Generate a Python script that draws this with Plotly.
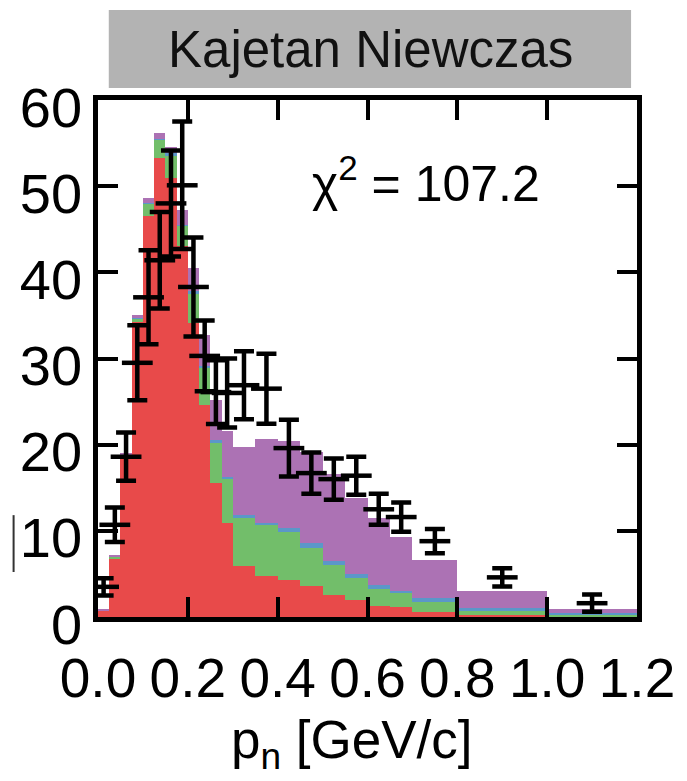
import plotly.graph_objects as go

# ---- data ----
bin_edges = [0, 0.025, 0.05, 0.075, 0.1, 0.125, 0.15, 0.175, 0.2, 0.225, 0.25, 0.275, 0.3,
             0.35, 0.4, 0.45, 0.5, 0.55, 0.6, 0.65, 0.7, 0.8, 1.0, 1.2]
red = [0.8, 6.7, 18.8, 34.2, 46.5, 53.3, 51.0, 43.0, 34.1, 24.6, 15.5, 10.9, 5.9, 4.8, 4.3, 3.6,
       2.55, 2.0, 1.3, 1.2, 0.6, 0.2, 0.05]
green = [0.0, 0.3, 0.1, 0.4, 1.5, 2.1, 2.6, 2.4, 3.5, 4.3, 4.8, 5.2, 5.7, 5.9, 5.6, 4.4,
         3.45, 2.5, 1.9, 1.6, 1.15, 0.55, 0.15]
blue = [0.0, 0.0, 0.0, 0.1, 0.1, 0.1, 0.2, 0.1, 0.2, 0.2, 0.2, 0.2, 0.2, 0.2, 0.4, 0.6,
        0.5, 0.5, 0.5, 0.2, 0.45, 0.35, 0.25]
purple = [0.1, 0.1, 0.1, 0.3, 0.5, 0.7, 0.7, 1.7, 2.7, 3.6, 4.7, 5.3, 7.9, 9.8, 10.1, 10.6,
          10.1, 8.8, 7.8, 6.3, 4.4, 1.9, 0.45]

data_x = [0.0125, 0.0375, 0.0625, 0.0875, 0.1125, 0.1375, 0.1625, 0.1875, 0.2125, 0.2375,
          0.2625, 0.2875, 0.325, 0.375, 0.425, 0.475, 0.525, 0.575, 0.625, 0.675, 0.75, 0.9, 1.1]
data_y = [3.5, 10.7, 18.6, 29.5, 37.1, 41.4, 48.0, 50.1, 38.3, 30.3, 26.1, 26.0, 26.9, 26.5,
          19.6, 16.7, 16.0, 16.4, 12.5, 11.6, 8.8, 4.6, 1.6]
data_err = [1.0, 2.0, 2.8, 4.35, 5.45, 5.6, 6.15, 7.4, 5.75, 4.1, 3.7, 4.0, 3.95, 4.06,
            3.3, 2.4, 2.4, 2.2, 1.8, 1.7, 1.4, 1.05, 1.0]

x_ticks = [0.0, 0.2, 0.4, 0.6, 0.8, 1.0, 1.2]
x_tick_text = ["0.0", "0.2", "0.4", "0.6", "0.8", "1.0", "1.2"]
y_ticks = [0, 10, 20, 30, 40, 50, 60]

title_text = "Kajetan Niewczas"
chi2_text = "χ<sup>2</sup> = 107.2"
xaxis_text = "p<sub>n</sub> [GeV/c]"

# ---- figure ----
centers = [(a + b) / 2 for a, b in zip(bin_edges[:-1], bin_edges[1:])]
widths = [b - a for a, b in zip(bin_edges[:-1], bin_edges[1:])]

FONT = "Liberation Sans, Arial, Helvetica, sans-serif"
fig = go.Figure()
for vals, col in [(red, "#e84a4a"), (green, "#72be6a"), (blue, "#5b97c9"), (purple, "#ac72b4")]:
    fig.add_trace(go.Bar(x=centers, y=vals, width=widths, marker=dict(color=col, line=dict(width=0)),
                         showlegend=False, hoverinfo="skip"))

fig.add_trace(go.Scatter(
    x=data_x, y=data_y, mode="markers",
    marker=dict(symbol="line-ew-open", size=22, color="black", line=dict(width=4.5, color="black")),
    error_y=dict(type="data", array=data_err, visible=True, color="black", thickness=4.5, width=10),
    showlegend=False, hoverinfo="skip"))

fig.update_layout(
    width=687, height=781,
    margin=dict(l=98, r=40, t=100, b=164),
    paper_bgcolor="white", plot_bgcolor="white",
    barmode="stack", bargap=0,
    font=dict(family=FONT, color="black"),
    xaxis=dict(range=[0, 1.2], tickvals=x_ticks, ticktext=x_tick_text, ticks="inside", ticklen=20,
               tickwidth=4, tickcolor="black", showline=True, linewidth=4.5, linecolor="black",
               mirror="ticks", showgrid=False, zeroline=False,
               tickfont=dict(size=55, family=FONT), ticklabelstandoff=9),
    yaxis=dict(range=[0, 60], tickvals=y_ticks, ticks="inside", ticklen=20,
               tickwidth=4, tickcolor="black", showline=True, linewidth=4.5, linecolor="black",
               mirror="ticks", showgrid=False, zeroline=False,
               tickfont=dict(size=56, family=FONT), ticklabelstandoff=0, ticklabelshift=7),
)

fig.add_shape(type="rect", xref="paper", yref="paper", x0=0.02, x1=0.989, y0=1.023, y1=1.174,
              fillcolor="#b3b3b3", line=dict(width=0), layer="below")
fig.add_annotation(text=title_text, xref="paper", yref="paper", x=0.506, y=1.0986,
                   showarrow=False, xanchor="center", yanchor="middle",
                   font=dict(size=51, family=FONT, color="#111111"))
fig.add_annotation(text=chi2_text, xref="paper", yref="paper", x=0.608, y=0.846,
                   showarrow=False, xanchor="center", yanchor="middle",
                   font=dict(size=50, family=FONT, color="black"))
fig.add_annotation(text=xaxis_text, xref="paper", yref="paper", x=0.472, y=-0.3115,
                   showarrow=False, xanchor="center", yanchor="bottom", borderpad=0,
                   font=dict(size=53, family=FONT, color="black"))
fig.add_shape(type="line", xref="paper", yref="paper", x0=-0.1566, x1=-0.1566, y0=0.087, y1=0.197,
              line=dict(color="#333333", width=2))

fig.write_html("out.html")
